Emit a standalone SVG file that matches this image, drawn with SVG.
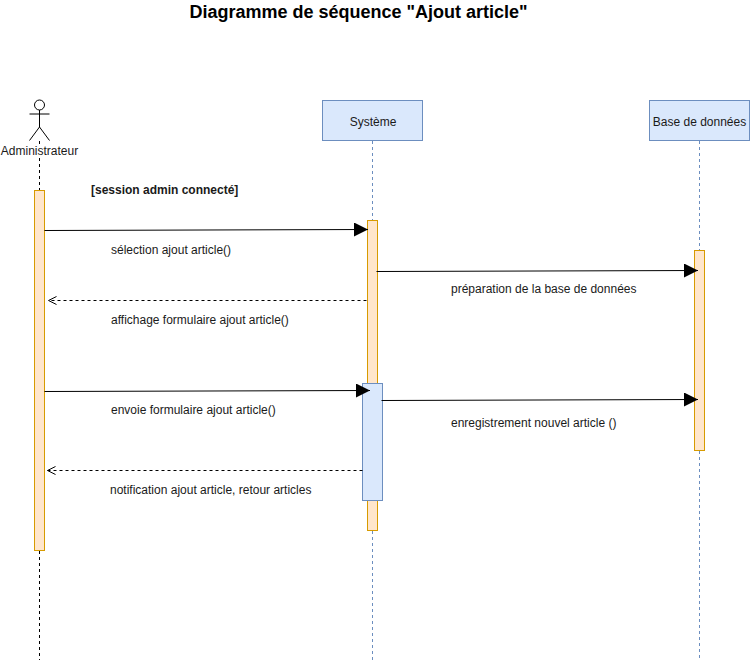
<svg xmlns="http://www.w3.org/2000/svg" width="750" height="661" viewBox="0 0 750 661">
<style>
text{font-family:"Liberation Sans",Arial,sans-serif;font-size:12px;fill:#1a1a1a}
.t{font-size:18px;font-weight:bold;fill:#000}
.b{font-weight:bold}
.m{text-anchor:middle}
.box{fill:#dae8fc;stroke:#6c8ebf;stroke-width:1}
.act{fill:#ffe6cc;stroke:#d79b00;stroke-width:1}
.life{fill:none;stroke:#6c8ebf;stroke-width:1;stroke-dasharray:3 3}
.lifeb{fill:none;stroke:#000;stroke-width:1;stroke-dasharray:3 3}
.msg{fill:none;stroke:#000;stroke-width:1;marker-end:url(#solid)}
.ret{fill:none;stroke:#000;stroke-width:1;stroke-dasharray:3 3;marker-end:url(#open)}
.actor{fill:none;stroke:#000;stroke-width:1}
</style>
<defs>
<marker id="solid" markerUnits="userSpaceOnUse" markerWidth="15" markerHeight="14" refX="14" refY="7" orient="auto"><path d="M0 0L14 7L0 14Z" fill="#000"/></marker>
<marker id="open" markerUnits="userSpaceOnUse" markerWidth="10" markerHeight="10" refX="9" refY="5" orient="auto"><path d="M1 1L9 5L1 9" fill="none" stroke="#000"/></marker>
</defs>
<rect width="750" height="661" fill="#fff"/>
<text id="title" class="t" x="358.500" y="18" text-anchor="middle">Diagramme de séquence "Ajout article"</text>
<g id="lifelines">
<path class="lifeb" d="M39.500 141V146M39.500 158V190M39.500 551V660"/>
<path class="life" d="M372.500 141V220M372.500 531V660"/>
<path class="life" d="M699.500 141V250M699.500 451V660"/>
</g>
<g id="administrateur">
<circle class="actor" cx="39.500" cy="105" r="5"/>
<path class="actor" d="M39.500 110V127M29.500 114H49.500M29.500 140.500L39.500 127L49.500 140.500"/>
<text class="m" x="39.500" y="155">Administrateur</text>
<rect class="act" x="34.500" y="190.500" width="10" height="360"/>
</g>
<g id="systeme">
<rect class="box" x="322.500" y="100.500" width="100" height="40"/>
<text class="m" x="373" y="126">Système</text>
<rect class="act" x="367.500" y="220.500" width="10" height="310"/>
<rect class="box" x="362.500" y="383.500" width="20" height="117"/>
</g>
<g id="base">
<rect class="box" x="649.500" y="100.500" width="100" height="40"/>
<text class="m" x="699.500" y="126">Base de données</text>
<rect class="act" x="694.500" y="250.500" width="10" height="200"/>
</g>
<g id="connectors">
<path class="msg" d="M44.500 230.500L368 229.500"/>
<path class="msg" d="M376.500 271.500L698 270.500"/>
<path class="ret" d="M366.500 300.500H48.500"/>
<path class="msg" d="M44.500 391.500L370 390.500"/>
<path class="msg" d="M381.500 400.500L698 399.500"/>
<path class="ret" d="M362.500 470.500H47.500"/>
</g>
<g id="labels">
<text class="b" x="91" y="194">[session admin connecté]</text>
<text x="111" y="254">sélection ajout article()</text>
<text x="451" y="293">préparation de la base de données</text>
<text x="111" y="324">affichage formulaire ajout article()</text>
<text x="111" y="414">envoie formulaire ajout article()</text>
<text x="451" y="427">enregistrement nouvel article ()</text>
<text x="110" y="494">notification ajout article, retour articles</text>
</g>
</svg>
